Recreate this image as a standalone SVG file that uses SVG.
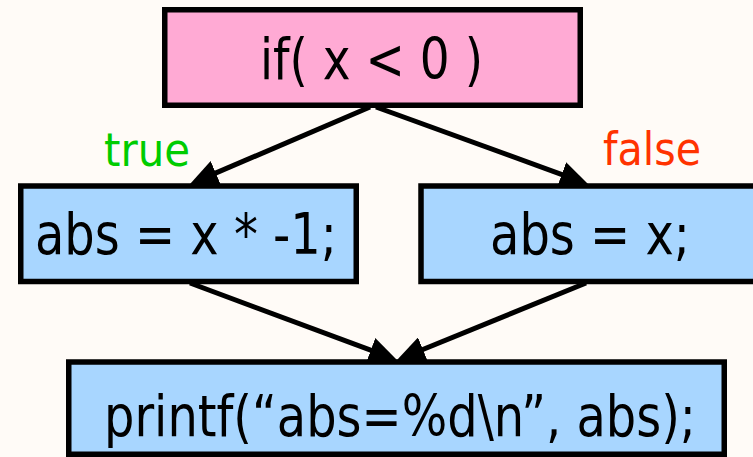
<svg xmlns="http://www.w3.org/2000/svg" width="753" height="457" viewBox="0 0 753 457">
<style>
.box{stroke:#000;stroke-width:5.5}
.pink{fill:#ffaad4}
.blue{fill:#a8d6ff}
.t{font-family:"DejaVu Sans Condensed","DejaVu Sans",sans-serif;font-size:57px;fill:#000}
.lbl{font-family:"DejaVu Sans Condensed","DejaVu Sans",sans-serif;font-size:47px}
.edge{stroke:#000;stroke-width:5;fill:none;marker-end:url(#ah)}
</style>
<defs>
<marker id="ah" markerWidth="28" markerHeight="26" refX="20" refY="13" orient="auto" markerUnits="userSpaceOnUse">
<path d="M0,0 L28,13 L0,26 Z" fill="#000"/>
</marker>
</defs>
<rect width="753" height="457" fill="#fffbf7"/>
<g id="connectors">
<line class="edge" x1="370" y1="107" x2="197.4" y2="180.9"/>
<line class="edge" x1="376" y1="107" x2="580.5" y2="181.3"/>
<line class="edge" x1="190" y1="283" x2="389.5" y2="357.2"/>
<line class="edge" x1="586" y1="283" x2="404.4" y2="357"/>
</g>
<g id="n_if">
<rect class="box pink" x="164.75" y="9.75" width="415.5" height="95.5"/>
<text class="t" x="260" y="79" textLength="223" lengthAdjust="spacingAndGlyphs">if( x &lt; 0 )</text>
</g>
<g id="lbl_true"><text class="lbl" x="104" y="166" fill="#00cc00" textLength="86" lengthAdjust="spacingAndGlyphs">true</text></g>
<g id="lbl_false"><text class="lbl" x="603" y="165" fill="#ff3300" textLength="98" lengthAdjust="spacingAndGlyphs">false</text></g>
<g id="n_true">
<rect class="box blue" x="20.75" y="186" width="335.5" height="95.5"/>
<text class="t" x="35" y="254" textLength="302" lengthAdjust="spacingAndGlyphs">abs = x * -1;</text>
</g>
<g id="n_false">
<rect class="box blue" x="421" y="186" width="340" height="95.5"/>
<text class="t" x="490" y="254" textLength="200" lengthAdjust="spacingAndGlyphs">abs = x;</text>
</g>
<g id="n_printf">
<rect class="box blue" x="68.75" y="362" width="655.5" height="92.25"/>
<text class="t" x="104" y="436" textLength="592" lengthAdjust="spacingAndGlyphs">printf(“abs=%d\n”, abs);</text>
</g>
</svg>
